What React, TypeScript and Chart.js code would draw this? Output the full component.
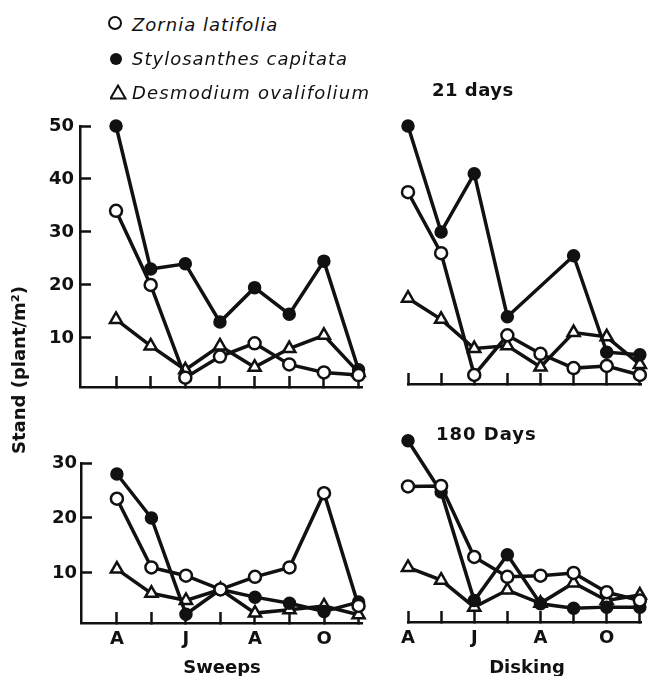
import React, { useEffect, useRef } from 'react';
import { Chart, registerables } from 'chart.js';

Chart.register(...registerables);

// ---------------- data ----------------
const MONTHS = [0, 1, 2, 3, 4, 5, 6, 7]; // Apr .. Nov
const MONTH_LABELS = ['A', '', 'J', '', 'A', '', 'O', ''];
const SPECIES = ['Zornia latifolia', 'Stylosanthes capitata', 'Desmodium ovalifolium'];
const Y_TICKS_21 = [10, 20, 30, 40, 50];
const Y_TICKS_180 = [10, 20, 30];

// Sweeps, 21 days
const sweeps21Zornia = [34, 20, 2.5, 6.5, 9, 5, 3.5, 3];
const sweeps21Stylo = [50, 23, 24, 13, 19.5, 14.5, 24.5, 4];
const sweeps21Desmo = [13.5, 8.5, 4, 8.5, 4.5, 8, 10.5, 3.5];

// Disking, 21 days
const disking21Zornia = [37.5, 26, 3, 10.5, 7, 4.3, 4.7, 3];
const disking21Stylo = [50, 30, 41, 14, null, 25.5, 7.3, 6.8];
const disking21Desmo = [17.5, 13.5, 8, 8.5, 4.5, 11, 10.2, 5];

// Sweeps, 180 days
const sweeps180Zornia = [23.5, 11, 9.5, 7, 9.3, 11, 24.5, 4];
const sweeps180Stylo = [28, 20, 2.5, 7, 5.6, 4.5, 3, 4.7];
const sweeps180Desmo = [10.7, 6.3, 5, 7, 2.7, 3.3, 4, 2.4];

// Disking, 180 days
const disking180Zornia = [25.7, 25.8, 12.9, 9.3, 9.5, 10, 6.5, 5];
const disking180Stylo = [34, 24.7, 5, 13.3, 4.4, 3.6, 3.8, 3.8];
const disking180Desmo = [11, 8.7, 3.8, 6.9, 4.5, 8.2, 5, 6];

// ---------------- styling ----------------
const INK = '#111111';
const FONT = 'DejaVu Sans';

type Spec = {
  left: number; top: number; width: number; height: number;
  padding: { left: number; right: number; top: number; bottom: number };
  xMin: number; xMax: number; yMin: number; yMax: number;
  xAxisHeight: number; yAxisWidth: number; showY: boolean; showMonths: boolean;
  yTicks: number[]; yPad: number;
  series: (number | null)[][];
};

function toPoints(vals: (number | null)[]) {
  return vals.map((v, i) => ({ x: MONTHS[i], y: v }));
}

function buildConfig(p: Spec): any {
  const styles = [
    { pointStyle: 'circle', pointRadius: 6, pointBackgroundColor: '#ffffff' },
    { pointStyle: 'circle', pointRadius: 5.5, pointBackgroundColor: INK },
    { pointStyle: 'triangle', pointRadius: 7, pointBackgroundColor: '#ffffff' },
  ];
  return {
    type: 'line',
    data: {
      datasets: p.series.map((vals, i) => ({
        label: SPECIES[i],
        data: toPoints(vals),
        borderColor: INK,
        borderWidth: 3.5,
        tension: 0,
        spanGaps: true,
        clip: false,
        pointBorderColor: INK,
        pointBorderWidth: 2.5,
        ...styles[i],
      })),
    },
    options: {
      animation: false,
      responsive: false,
      devicePixelRatio: 1,
      layout: { padding: p.padding },
      plugins: { legend: { display: false }, tooltip: { enabled: false }, title: { display: false } },
      scales: {
        x: {
          type: 'linear',
          min: p.xMin,
          max: p.xMax,
          afterBuildTicks: (s: any) => { s.ticks = MONTHS.map((v) => ({ value: v })); },
          afterFit: (s: any) => {
            s.height = p.xAxisHeight;
            s.paddingLeft = 0;
            s.paddingRight = 0;
          },
          grid: { display: true, drawOnChartArea: false, drawTicks: true, tickLength: -11, tickWidth: 2.5, tickColor: INK },
          border: { display: true, color: INK, width: 2.5 },
          ticks: {
            display: p.showMonths,
            autoSkip: false,
            maxRotation: 0,
            padding: 17,
            color: INK,
            font: { family: FONT, size: 18, weight: 'bold' },
            callback: (_v: any, idx: number) => MONTH_LABELS[idx],
          },
        },
        y: {
          type: 'linear',
          display: p.showY,
          min: p.yMin,
          max: p.yMax,
          afterBuildTicks: (s: any) => { s.ticks = p.yTicks.map((v) => ({ value: v })); },
          afterFit: (s: any) => {
            s.width = p.yAxisWidth;
            s.paddingTop = 0;
            s.paddingBottom = 0;
          },
          grid: { display: true, drawOnChartArea: false, drawTicks: true, tickLength: -11, tickWidth: 2.5, tickColor: INK },
          border: { display: true, color: INK, width: 2.5 },
          ticks: {
            autoSkip: false,
            padding: p.yPad,
            color: INK,
            font: { family: FONT, size: 18, weight: 'bold' },
            callback: (v: any) => String(v),
          },
        },
      },
    },
  };
}

const PANELS: Spec[] = [
  {
    left: 0, top: 100, width: 390, height: 300,
    padding: { left: 0, right: 28, top: 26, bottom: 0 },
    xMin: -1.04, xMax: 7.1, yMin: 0.75, yMax: 50,
    xAxisHeight: 13, yAxisWidth: 80, showY: true, showMonths: false,
    yTicks: Y_TICKS_21, yPad: 17,
    series: [sweeps21Zornia, sweeps21Stylo, sweeps21Desmo],
  },
  {
    left: 390, top: 100, width: 261, height: 300,
    padding: { left: 18, right: 5, top: 26, bottom: 0 },
    xMin: 0, xMax: 7.05, yMin: 1.3, yMax: 50,
    xAxisHeight: 16, yAxisWidth: 0, showY: false, showMonths: false,
    yTicks: Y_TICKS_21, yPad: 17,
    series: [disking21Zornia, disking21Stylo, disking21Desmo],
  },
  {
    left: 0, top: 440, width: 390, height: 236,
    padding: { left: 0, right: 28, top: 23, bottom: 0 },
    xMin: -1.04, xMax: 7.1, yMin: 0.9, yMax: 30,
    xAxisHeight: 53, yAxisWidth: 81, showY: true, showMonths: true,
    yTicks: Y_TICKS_180, yPad: 15,
    series: [sweeps180Zornia, sweeps180Stylo, sweeps180Desmo],
  },
  {
    left: 390, top: 420, width: 261, height: 256,
    padding: { left: 18, right: 5, top: 18, bottom: 0 },
    xMin: 0, xMax: 7.05, yMin: 1.1, yMax: 34.5,
    xAxisHeight: 54, yAxisWidth: 0, showY: false, showMonths: true,
    yTicks: Y_TICKS_180, yPad: 15,
    series: [disking180Zornia, disking180Stylo, disking180Desmo],
  },
];

function Panel({ spec }: { spec: Spec }) {
  const ref = useRef<HTMLCanvasElement | null>(null);
  useEffect(() => {
    if (!ref.current) return;
    const chart = new Chart(ref.current, buildConfig(spec));
    return () => chart.destroy();
  }, [spec]);
  return (
    <canvas
      ref={ref}
      width={spec.width}
      height={spec.height}
      style={{ position: 'absolute', left: spec.left, top: spec.top, width: spec.width, height: spec.height }}
    />
  );
}

const textBase: React.CSSProperties = {
  position: 'absolute',
  fontFamily: FONT,
  color: INK,
  whiteSpace: 'nowrap',
  lineHeight: '18px',
  fontSize: 18,
};

export default function App() {
  return (
    <div style={{ position: 'absolute', left: 0, top: 0, width: 651, height: 676, overflow: 'hidden', background: '#ffffff' }}>
      {PANELS.map((p, i) => (
        <Panel key={i} spec={p} />
      ))}

      {/* legend */}
      <svg width={16} height={16} style={{ position: 'absolute', left: 107, top: 15 }}>
        <circle cx={8} cy={8} r={6} fill="#ffffff" stroke={INK} strokeWidth={2} />
      </svg>
      <svg width={16} height={16} style={{ position: 'absolute', left: 108, top: 51 }}>
        <circle cx={8} cy={8} r={6} fill={INK} />
      </svg>
      <svg width={18} height={16} style={{ position: 'absolute', left: 110, top: 84 }}>
        <polygon points="8,1.5 15.5,14.5 0.5,14.5" fill="#ffffff" stroke={INK} strokeWidth={2} strokeLinejoin="miter" />
      </svg>
      <div style={{ ...textBase, left: 132, top: 16, fontStyle: 'italic', letterSpacing: 1 }}>{SPECIES[0]}</div>
      <div style={{ ...textBase, left: 132, top: 50, fontStyle: 'italic', letterSpacing: 1 }}>{SPECIES[1]}</div>
      <div style={{ ...textBase, left: 132, top: 84, fontStyle: 'italic', letterSpacing: 1.2 }}>{SPECIES[2]}</div>

      {/* panel labels */}
      <div style={{ ...textBase, left: 432, top: 81, fontWeight: 'bold', letterSpacing: 0.5 }}>21 days</div>
      <div style={{ ...textBase, left: 436, top: 425, fontWeight: 'bold', letterSpacing: 1 }}>180 Days</div>

      {/* axis titles */}
      <div style={{ ...textBase, left: 222, top: 658, fontWeight: 'bold', transform: 'translateX(-50%)' }}>Sweeps</div>
      <div style={{ ...textBase, left: 527, top: 658, fontWeight: 'bold', transform: 'translateX(-50%)' }}>Disking</div>
      <div
        style={{
          ...textBase,
          left: 19,
          top: 370,
          fontWeight: 'bold',
          transform: 'translate(-50%, -50%) rotate(-90deg)',
        }}
      >
        Stand (plant/m²)
      </div>
    </div>
  );
}
